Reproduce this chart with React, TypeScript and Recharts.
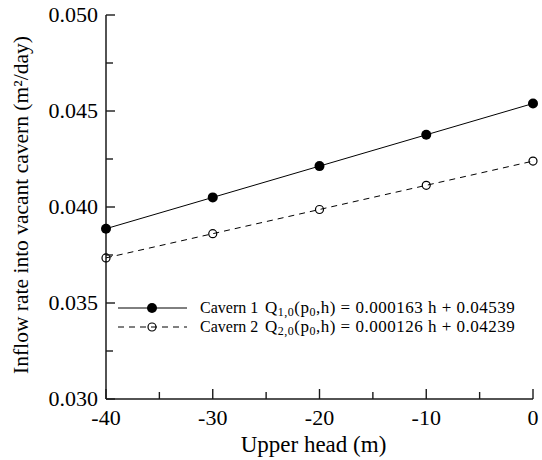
import React from "react";
import { LineChart, Line, XAxis, YAxis, Label } from "recharts";

const heads = [-40, -30, -20, -10, 0];
const cavern1 = [0.03887, 0.0405, 0.04213, 0.04376, 0.04539];
const cavern2 = [0.03735, 0.03861, 0.03987, 0.04113, 0.04239];
const xTicks = [-40, -35, -30, -25, -20, -15, -10, -5, 0];
const yTicks = [0.03, 0.0325, 0.035, 0.0375, 0.04, 0.0425, 0.045, 0.0475, 0.05];
const seriesNames = ["Cavern 1", "Cavern 2"];
const slopes = ["0.000163", "0.000126"];
const intercepts = ["0.04539", "0.04239"];

const data = heads.map((h, i) => ({ h, c1: cavern1[i], c2: cavern2[i] }));

const FONT = '"Liberation Serif", "Times New Roman", serif';
const AX = "#1a1a1a";
const MINOR = 7;
const MAJOR = 10;

const isMajorX = (v: number) => Math.round(v) % 10 === 0;
const isMajorY = (v: number) => Math.round(v * 10000) % 50 === 0;

const BottomTick = (p: any) => {
  const v = p.payload.value;
  const major = isMajorX(v);
  return (
    <g>
      <line x1={p.x} x2={p.x} y1={p.y} y2={p.y - (major ? MAJOR : MINOR)} stroke={AX} strokeWidth={1.4} />
      {major && (
        <text x={p.x} y={p.y + 26} textAnchor="middle" fontFamily={FONT} fontSize={22} fill="#000">
          {v}
        </text>
      )}
    </g>
  );
};
const TopTick = (p: any) => {
  const v = p.payload.value;
  const major = isMajorX(v);
  return <line x1={p.x} x2={p.x} y1={p.y} y2={p.y + (major ? MAJOR : MINOR)} stroke={AX} strokeWidth={1.4} />;
};
const LeftTick = (p: any) => {
  const v = p.payload.value;
  const major = isMajorY(v);
  return (
    <g>
      <line x1={p.x} x2={p.x + (major ? MAJOR - 1 : MINOR)} y1={p.y} y2={p.y} stroke={AX} strokeWidth={1.4} />
      {major && (
        <text x={p.x - 8} y={p.y + 7} textAnchor="end" fontFamily={FONT} fontSize={22} fill="#000">
          {v.toFixed(3)}
        </text>
      )}
    </g>
  );
};
const RightTick = (p: any) => {
  const v = p.payload.value;
  const major = isMajorY(v);
  return <line x1={p.x} x2={p.x - (major ? MAJOR - 1 : MINOR)} y1={p.y} y2={p.y} stroke={AX} strokeWidth={1.4} />;
};

const Sub = ({ children }: { children: React.ReactNode }) => (
  <tspan baselineShift="-25%" fontSize={12}>{children}</tspan>
);

const LegendBox = () => (
  <svg width={432} height={46} style={{ display: "block", overflow: "visible" }}>
    <g fontFamily={FONT} fill="#000">
      <line x1={8} x2={77} y1={13} y2={13} stroke="#000" strokeWidth={1} />
      <circle cx={42} cy={13} r={5} fill="#000" />
      <text x={90} y={18} fontSize={16}>{seriesNames[0]}</text>
      <text x={155} y={18} fontSize={17} letterSpacing={0.5}>
        Q<Sub>1,0</Sub>(p<Sub>0</Sub>,h) = {slopes[0]} h + {intercepts[0]}
      </text>
      <line x1={8} x2={77} y1={32} y2={32} stroke="#000" strokeWidth={1} strokeDasharray="6 5" />
      <circle cx={42} cy={32} r={4} fill="none" stroke="#000" strokeWidth={1.2} />
      <text x={90} y={37} fontSize={16}>{seriesNames[1]}</text>
      <text x={155} y={37} fontSize={17} letterSpacing={0.5}>
        Q<Sub>2,0</Sub>(p<Sub>0</Sub>,h) = {slopes[1]} h + {intercepts[1]}
      </text>
    </g>
  </svg>
);

const axisLineStyle = { stroke: AX, strokeWidth: 1.5 };

export default function App() {
  return (
    <div style={{ position: "absolute", left: 0, top: 0, width: 542, height: 460, background: "#fff" }}>
      <LineChart width={542} height={460} data={data} margin={{ top: 15, right: 9, left: 0, bottom: 0 }}>
        <XAxis
          xAxisId="b"
          dataKey="h"
          type="number"
          domain={[-40, 0]}
          ticks={xTicks}
          interval={0}
          height={61}
          tickSize={0}
          tickMargin={0}
          tickLine={false}
          tick={BottomTick}
          axisLine={axisLineStyle}
        >
          <Label
            content={(props: any) => {
              const vb = props.viewBox;
              return (
                <text x={vb.x + vb.width / 2 - 6} y={vb.y + 53} textAnchor="middle" fontFamily={FONT} fontSize={23} fill="#000">
                  Upper head (m)
                </text>
              );
            }}
          />
        </XAxis>
        <XAxis
          xAxisId="t"
          dataKey="h"
          type="number"
          orientation="top"
          domain={[-40, 0]}
          ticks={xTicks}
          interval={0}
          height={0}
          tickSize={0}
          tickMargin={0}
          tickLine={false}
          tick={TopTick}
          axisLine={axisLineStyle}
        />
        <YAxis
          yAxisId="l"
          type="number"
          domain={[0.03, 0.05]}
          ticks={yTicks}
          interval={0}
          width={106}
          tickSize={0}
          tickMargin={0}
          tickLine={false}
          tick={LeftTick}
          axisLine={axisLineStyle}
        >
          <Label
            content={(props: any) => {
              const vb = props.viewBox;
              const cx = vb.x + 28;
              const cy = vb.y + vb.height / 2 - 2;
              return (
                <text x={cx} y={cy} transform={`rotate(-90 ${cx} ${cy})`} textAnchor="middle" fontFamily={FONT} fontSize={21.5} fill="#000">
                  Inflow rate into vacant cavern (m²/day)
                </text>
              );
            }}
          />
        </YAxis>
        <YAxis
          yAxisId="r"
          type="number"
          orientation="right"
          domain={[0.03, 0.05]}
          ticks={yTicks}
          interval={0}
          width={0}
          tickSize={0}
          tickMargin={0}
          tickLine={false}
          tick={RightTick}
          axisLine={axisLineStyle}
        />
        <Line
          xAxisId="b"
          yAxisId="l"
          dataKey="c1"
          name={seriesNames[0]}
          stroke="#000"
          strokeWidth={1}
          dot={{ r: 5, fill: "#000", stroke: "#000", strokeWidth: 0 }}
          isAnimationActive={false}
        />
        <Line
          xAxisId="b"
          yAxisId="l"
          dataKey="c2"
          name={seriesNames[1]}
          stroke="#000"
          strokeWidth={1}
          strokeDasharray="6 5"
          dot={{ r: 4, fill: "none", stroke: "#000", strokeWidth: 1.2, strokeDasharray: "" }}
          isAnimationActive={false}
        />
      </LineChart>
      <div style={{ position: "absolute", left: 110, top: 295, pointerEvents: "none" }}>
        <LegendBox />
      </div>
    </div>
  );
}
